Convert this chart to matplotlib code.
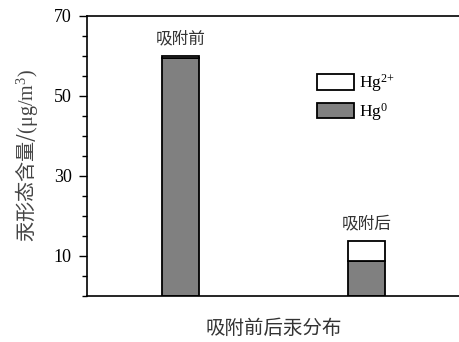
import matplotlib.pyplot as plt
import numpy as np

plt.rcParams['font.family'] = ['Liberation Serif', 'Noto Sans CJK SC']
plt.rcParams['mathtext.fontset'] = 'custom'
plt.rcParams['mathtext.rm'] = 'Liberation Serif'
plt.rcParams['mathtext.it'] = 'Liberation Serif'

# 吸附前后两种形态汞的含量 (μg/m3)
groups = ['吸附前', '吸附后']
hg0 = [59.6, 8.8]
hg2 = [0.5, 5.0]

x = np.array([1, 2])
tot = np.array(hg0) + np.array(hg2)

fig = plt.figure(figsize=(4.59, 3.42), dpi=100)
ax = fig.add_axes([87/459, 46/342, 373/459, 280/342])

ax.bar(x, hg0, width=0.2, color='#808080', edgecolor='black', linewidth=1.3, label='Hg$^{0}$')
ax.bar(x, hg2, width=0.2, bottom=hg0, color='white', edgecolor='black', linewidth=1.3,
       label='Hg$^{2\\!+}$')

for xi, ti, g in zip(x, tot, groups):
    ax.text(xi, ti + 2.0, g, ha='center', va='bottom', fontsize=12,
            family=['Noto Sans CJK SC'], color='#333333')

ax.set_xlim(0.5, 2.5)
ax.set_ylim(0, 70)
ax.set_yticks([10, 30, 50, 70])
ax.set_yticks(np.arange(0, 71, 5), minor=True)
ax.set_xticks([])
ax.tick_params(axis='y', which='major', direction='out', length=6, width=1, labelsize=13, pad=5)
ax.tick_params(axis='y', which='minor', direction='out', length=3.5, width=1)
ax.spines['right'].set_visible(False)
for s in ['left', 'top', 'bottom']:
    ax.spines[s].set_linewidth(1.2)

ax.set_ylabel('汞形态含量/$\\mathrm{(μg/m^3)}$', fontsize=14.5, family=['Noto Sans CJK SC'],
              color='#444444', labelpad=10)
ax.set_xlabel('吸附前后汞分布', fontsize=14, family=['Noto Sans CJK SC'], color='#333333',
              labelpad=16)

h, l = ax.get_legend_handles_labels()
ax.legend(h[::-1], l[::-1], loc='upper left', bbox_to_anchor=(0.575, 0.855), frameon=False,
          fontsize=12.5, handlelength=2.1, handleheight=1.0, handletextpad=0.3, labelspacing=0.4)

fig.savefig('out.png', dpi=100)
